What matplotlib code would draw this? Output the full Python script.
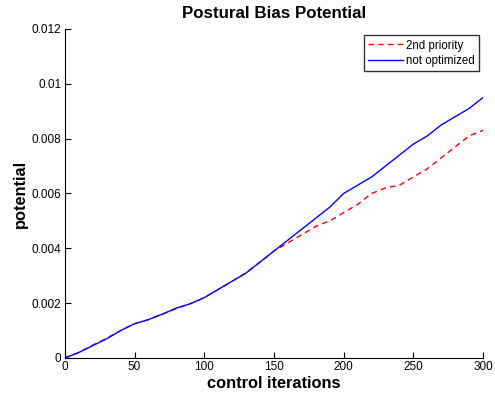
import matplotlib
matplotlib.use("Agg")
import matplotlib.pyplot as plt

plt.rcParams['font.family'] = ['Liberation Sans', 'DejaVu Sans']

iters = [0, 10, 20, 30, 40, 50, 60, 70, 80, 90, 100, 110, 120, 130, 140, 150,
         160, 170, 180, 190, 200, 210, 220, 230, 240, 250, 260, 270, 280, 290, 300]
not_optimized = [0.0, 0.0002, 0.00045, 0.0007, 0.001, 0.00125, 0.0014, 0.0016,
                 0.00182, 0.00198, 0.0022, 0.0025, 0.0028, 0.0031, 0.0035, 0.0039,
                 0.0043, 0.0047, 0.0051, 0.0055, 0.0060, 0.0063, 0.0066, 0.0070,
                 0.0074, 0.0078, 0.0081, 0.0085, 0.0088, 0.0091, 0.0095]
second_priority = [0.0, 0.0002, 0.00047, 0.00072, 0.001, 0.00125, 0.0014, 0.0016,
                   0.0018, 0.00198, 0.0022, 0.0025, 0.0028, 0.0031, 0.0035, 0.0039,
                   0.0042, 0.0045, 0.0048, 0.0050, 0.0053, 0.0056, 0.0060, 0.0062,
                   0.0063, 0.0066, 0.0069, 0.0073, 0.0077, 0.0081, 0.0083]

xticks = [0, 50, 100, 150, 200, 250, 300]
yticks = [0, 0.002, 0.004, 0.006, 0.008, 0.01, 0.012]
ytick_labels = ['0', '0.002', '0.004', '0.006', '0.008', '0.01', '0.012']

fig = plt.figure(figsize=(4.95, 3.96), dpi=100)
ax = fig.add_axes([0.131, 0.096, 0.845, 0.831])

ax.plot(iters, second_priority, color='red', lw=1.0, dashes=(4, 3),
        label='2nd priority')
ax.plot(iters, not_optimized, '-', color='blue', lw=1.0, label='not optimized')

ax.set_xlim(0, 300)
ax.set_ylim(0, 0.012)
ax.set_xticks(xticks)
ax.set_yticks(yticks)
ax.set_yticklabels(ytick_labels)
ax.tick_params(direction='in', length=4, labelsize=8.5, width=0.8, pad=2.5)
for s in ['top', 'right']:
    ax.spines[s].set_visible(False)

ax.set_title('Postural Bias Potential', fontsize=12.2, fontweight='bold', pad=8)
ax.set_xlabel('control iterations', fontsize=11.8, fontweight='bold', labelpad=2)
ax.set_ylabel('potential', fontsize=11.8, fontweight='bold', labelpad=3)

leg = ax.legend(loc='upper right', bbox_to_anchor=(0.99, 0.98), fontsize=8.3,
                frameon=True, fancybox=False, borderpad=0.35, handlelength=3.0,
                handletextpad=0.3, labelspacing=0.3, borderaxespad=0)
leg.get_frame().set_edgecolor('black')
leg.get_frame().set_linewidth(1.0)

fig.savefig('out.png', dpi=100)
